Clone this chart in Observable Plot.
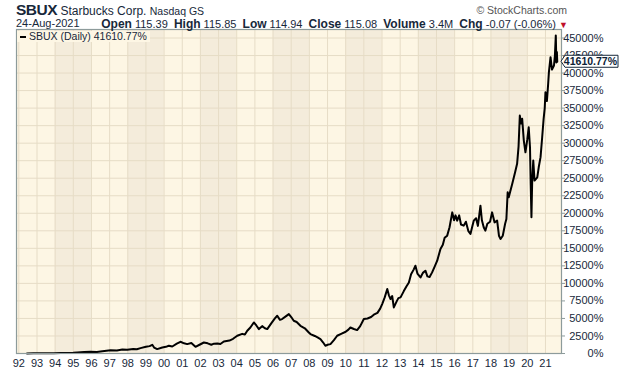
<!DOCTYPE html>
<html><head><meta charset="utf-8">
<script src="https://cdn.jsdelivr.net/npm/d3@7"></script>
<script src="https://cdn.jsdelivr.net/npm/@observablehq/plot@0.6"></script>
<style>
body{margin:0;background:#fff;font-family:"Liberation Sans",Arial,sans-serif;color:#17283a}
#wrap{position:relative;width:620px;height:376px;overflow:hidden}
#chart{position:absolute;left:0;top:0}
.hd{position:absolute;white-space:nowrap;line-height:1}
#t1{left:16px;top:3px;font-size:12px;line-height:13px}
#t1 b{font-size:15.5px;letter-spacing:-0.5px}
#t1 .ex{font-size:10.5px}
#copy{right:53px;top:5px;font-size:10.5px;color:#555}
#t2{left:16px;top:18px;font-size:11px;line-height:11px}
#t3{right:52px;top:17.5px;font-size:11px;line-height:12px}
#t3 b{font-size:12px}
#t3 .tri{color:#c0102a;font-size:9px}
#legend{position:absolute;left:17px;top:31px;background:#fdf6e4;font-size:10.5px;padding:0 3px 1px 3px;line-height:10px;white-space:nowrap}
#legend .mk{display:inline-block;width:6px;height:2px;background:#000;vertical-align:middle;margin-right:3px}
</style></head><body>
<div id="wrap">
<div id="chart"></div>
<div class="hd" id="t1"><b>SBUX</b> Starbucks Corp. <span class="ex">Nasdaq GS</span></div>
<div class="hd" id="copy">© StockCharts.com</div>
<div class="hd" id="t2">24-Aug-2021</div>
<div class="hd" id="t3"><b>Open</b> 115.39&nbsp; <b>High</b> 115.85&nbsp; <b>Low</b> 114.94&nbsp; <b>Close</b> 115.08&nbsp; <b>Volume</b> 3.4M&nbsp; <b>Chg</b> -0.07 (-0.06%) <span class="tri">▼</span></div>
<div id="legend"><span class="mk"></span>SBUX (Daily) 41610.77%</div>
</div>
<script>
// decimal years of the observations
const years = [
1992.45,1992.8,1993.2,1993.6,1993.93,1994.3,1994.7,1995.0,1995.22,1995.6,1995.95,1996.3,1996.6,1997.05,1997.4,1997.7,1997.97,
1998.3,1998.5,1998.7,1999.0,1999.2,1999.35,1999.45,1999.62,1999.9,2000.1,2000.26,2000.45,2000.7,2000.9,2001.1,2001.27,2001.5,
2001.65,2001.73,2001.95,2002.19,2002.4,2002.6,2002.75,2002.93,2003.1,2003.29,2003.6,2003.8,2004.03,2004.3,2004.45,2004.58,
2004.75,2004.94,2005.08,2005.22,2005.4,2005.55,2005.68,2005.9,2006.1,2006.23,2006.38,2006.5,2006.7,2006.87,2007.0,2007.14,
2007.3,2007.51,2007.75,2007.97,2008.06,2008.3,2008.45,2008.61,2008.75,2008.88,2009.0,2009.16,2009.35,2009.53,2009.75,2010.0,
2010.15,2010.26,2010.45,2010.63,2010.8,2011.0,2011.2,2011.4,2011.55,2011.75,2011.9,2012.01,2012.15,2012.29,2012.38,2012.47,
2012.56,2012.65,2012.8,2012.9,2013.02,2013.2,2013.35,2013.48,2013.6,2013.75,2013.84,2013.95,2014.12,2014.25,2014.39,2014.5,
2014.62,2014.76,2014.9,2015.04,2015.22,2015.35,2015.45,2015.59,2015.72,2015.87,2015.97,2016.05,2016.14,2016.25,2016.35,2016.5,
2016.62,2016.75,2016.87,2016.96,2017.05,2017.18,2017.28,2017.42,2017.5,2017.6,2017.69,2017.8,2017.95,2018.06,2018.2,2018.34,
2018.44,2018.53,2018.65,2018.78,2018.85,2018.92,2018.98,2019.17,2019.33,2019.44,2019.52,2019.59,2019.66,2019.72,2019.81,2019.9,
2020.0,2020.08,2020.15,2020.19,2020.23,2020.27,2020.33,2020.4,2020.55,2020.63,2020.73,2020.82,2020.9,2020.96,2021.0,2021.08,
2021.15,2021.19,2021.28,2021.36,2021.47,2021.52,2021.57,2021.6,2021.63,2021.65];
// percent change since start
const pctChange = [
0,20,50,35,50,80,60,90,150,200,250,200,330,480,420,560,530,
650,600,770,950,1050,1240,850,630,850,950,1100,1000,1400,1670,1450,1340,1500,
1150,960,1250,1570,1450,1250,1400,1430,1350,1710,1850,2100,2530,2800,2700,3240,
3700,4430,4000,3480,3900,3600,3480,4300,5000,5380,4800,4910,5300,5620,5200,4670,
4500,3950,3600,3000,2770,2500,2300,2050,1600,1100,1250,1340,1900,2530,2800,3100,
3400,3710,3500,3340,3900,4910,5000,5200,5530,5800,6400,7050,8000,9200,8300,7770,
8200,6570,7400,7900,8000,8900,9600,10140,11300,12000,12520,11400,10850,11500,11810,11000,
10900,11570,12400,13240,14910,15500,16500,16810,18000,20130,19000,19700,18950,19700,18400,18240,
18800,17500,17050,18000,18950,19300,18200,21090,19000,18000,17520,18500,18800,20130,18700,18950,
16800,16340,16800,18500,19190,23000,22300,24190,25850,27050,29500,33940,32800,33470,30370,28700,
30500,32270,29420,24000,19420,24500,27520,24660,25130,26560,28000,30850,33500,35000,37270,36000,
38500,40130,42270,40500,41080,42500,45370,41500,43000,41610.77];
const yTicks = d3.range(0, 45001, 2500);
const xTickYears = d3.range(1992, 2022);
const bandStartYears = [1994, 1998, 2002, 2006, 2010, 2014, 2018];
const lastLabel = "41610.77%";

function toDate(y){const yr=Math.floor(y);const s=Date.UTC(yr,0,1),e=Date.UTC(yr+1,0,1);return new Date(s+(y-yr)*(e-s));}
const data = years.map((y,i)=>({date:toDate(y), v:pctChange[i]}));
const xTicks = xTickYears.map(y=>toDate(y));

const light="#fdf6e4", dark="#f4ecdb", grid="#e6dcc6", frameCol="#8d9b9b", ink="#17283a";

const plot = Plot.plot({
  width:620, height:376,
  marginLeft:16, marginRight:59, marginTop:29, marginBottom:23,
  style:{fontFamily:"Liberation Sans, Arial, sans-serif", fontSize:"11px", color:ink, background:"transparent"},
  x:{type:"utc", domain:[toDate(1991.873), toDate(2021.884)]},
  y:{domain:[0,46213]},
  marks:[
    Plot.frame({fill:light}),
    Plot.rect(bandStartYears, {x1:d=>toDate(d), x2:d=>toDate(d+2), fill:dark}),
    Plot.gridX(xTicks, {stroke:grid, strokeOpacity:1}),
    Plot.gridY(yTicks, {stroke:grid, strokeOpacity:1}),
    Plot.line(data, {x:"date", y:"v", stroke:"#000", strokeWidth:2, strokeLinejoin:"round"}),
    Plot.frame({stroke:frameCol, strokeWidth:1.2}),
    Plot.axisY(yTicks, {anchor:"right", tickSize:3, tickPadding:39, textAnchor:"end", stroke:frameCol, fill:ink, tickFormat:d=>d+"%", label:null}),
    Plot.axisX(xTicks, {anchor:"bottom", tickSize:0, tickPadding:6, fill:ink, tickFormat:d3.utcFormat("%y"), label:null})
  ]
});
document.getElementById("chart").appendChild(plot);

// last value marker box
const ys = plot.scale("y").apply(pctChange[pctChange.length-1]);
const xr = plot.scale("x").range[1];
const svg = d3.select(plot);
const g = svg.append("g");
g.append("path")
 .attr("d", `M${xr},${ys} L${xr+4},${ys-6} L${618},${ys-6} L${618},${ys+6} L${xr+4},${ys+6} Z`)
 .attr("fill","#fff").attr("stroke","#17283a").attr("stroke-width",1);
g.append("text").attr("x",617).attr("y",ys).attr("dy","0.36em").attr("text-anchor","end")
 .attr("font-weight","bold").attr("font-size","10.5px").attr("fill","#0d2236").text(lastLabel);
</script>
</body></html>
